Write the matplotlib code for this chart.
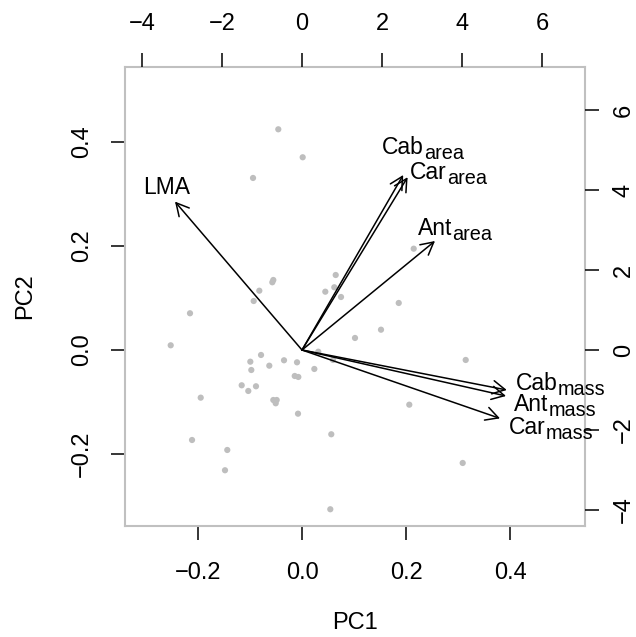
import matplotlib
matplotlib.use("Agg")
import matplotlib.pyplot as plt
from matplotlib.transforms import IdentityTransform

plt.rcParams['font.family'] = ['Liberation Sans', 'DejaVu Sans']

# scores (PC1, PC2) on bottom/left axes
pc1 = [-0.0456, 0.0013, -0.0942, 0.2148, 0.0648, -0.0552, -0.0571, -0.0821, 0.0448, 0.0621,
       0.0750, -0.0929, 0.1860, -0.2154, -0.2525, 0.1519, 0.1019, 0.3148, -0.0788, -0.0994,
       -0.0975, -0.0629, -0.0346, -0.0096, 0.0237, -0.0140, -0.0071, 0.0313, 0.0596, -0.1160,
       -0.0885, -0.1033, -0.1948, -0.0552, -0.0487, -0.0506, 0.2063, -0.0077, 0.0563, -0.2115,
       -0.1437, -0.1481, 0.3090, 0.0544]
pc2 = [0.4244, 0.3706, 0.3308, 0.1948, 0.1442, 0.1346, 0.1302, 0.1140, 0.1121, 0.1206,
       0.1019, 0.0942, 0.0904, 0.0706, 0.0090, 0.0390, 0.0231, -0.0192, -0.0096, -0.0225,
       -0.0385, -0.0302, -0.0198, -0.0237, -0.0365, -0.0500, -0.0519, -0.0033, -0.0192, -0.0679,
       -0.0698, -0.0788, -0.0917, -0.0962, -0.0962, -0.1025, -0.1052, -0.1225, -0.1621, -0.1731,
       -0.1923, -0.2313, -0.2173, -0.3063]

# loadings (top/right axes)
var_main = ['LMA', 'Cab', 'Car', 'Ant', 'Cab', 'Ant', 'Car']
var_sub = ['', 'area', 'area', 'area', 'mass', 'mass', 'mass']
load1 = [-3.175, 2.53, 2.64, 3.325, 5.12, 5.10, 4.95]
load2 = [3.71, 4.375, 4.32, 2.725, -1.00, -1.15, -1.71]
label_x = [-3.38, 3.025, 3.66, 3.825, 6.47, 6.325, 6.22]
label_y = [4.10, 5.05, 4.43, 3.025, -0.85, -1.375, -1.96]

W, H = 636, 637
fig = plt.figure(figsize=(W / 100, H / 100), dpi=100)
rect = [125 / W, 1 - 526 / H, 460 / W, 459 / H]
FS = 17
LFS = 16.5
SFS = LFS * 0.87

ax = fig.add_axes(rect)
ax.scatter(pc1, pc2, s=20, color='#BEBEBE', edgecolors='none', zorder=2)
ax.set_xlim(-0.3404, 0.5442)
ax.set_ylim(-0.3385, 0.5442)
ax.set_xticks([-0.2, 0.0, 0.2, 0.4])
ax.set_yticks([-0.2, 0.0, 0.2, 0.4])
ax.set_xticklabels(['\u22120.2', '0.0', '0.2', '0.4'])
ax.set_yticklabels(['\u22120.2', '0.0', '0.2', '0.4'])
for s in ax.spines.values():
    s.set_color('#C0C0C0')
    s.set_linewidth(1.5)
ax.tick_params(axis='x', direction='out', length=10, width=1.1, color='black',
               labelsize=FS, pad=16)
ax.tick_params(axis='y', direction='out', length=10, width=1.1, color='black',
               labelsize=FS, pad=13)
for lab in ax.get_yticklabels():
    lab.set_rotation(90)
    lab.set_va('center')

ax2 = fig.add_axes(rect, frameon=False)
ax2.set_xlim(-4.425, 7.075)
ax2.set_ylim(-4.40, 7.075)
ax2.patch.set_alpha(0)
ax2.xaxis.tick_top()
ax2.yaxis.tick_right()
ax2.set_xticks([-4, -2, 0, 2, 4, 6])
ax2.set_yticks([-4, -2, 0, 2, 4, 6])
ax2.set_xticklabels(['\u22124', '\u22122', '0', '2', '4', '6'])
ax2.set_yticklabels(['\u22124', '\u22122', '0', '2', '4', '6'])
ax2.tick_params(axis='x', direction='out', length=10, width=1.1, color='black',
                labelsize=FS, pad=13)
ax2.tick_params(axis='y', direction='out', length=10, width=1.1, color='black',
                labelsize=FS, pad=10)
for lab in ax2.get_yticklabels():
    lab.set_rotation(90)
    lab.set_va('center')

for a, b in zip(load1, load2):
    ax2.annotate('', xy=(a, b), xytext=(0, 0),
                 arrowprops=dict(arrowstyle='->,head_length=0.75,head_width=0.4',
                                 color='black', lw=1.1, shrinkA=0, shrinkB=0,
                                 mutation_scale=12))

fig.text(355 / W, 1 - 623 / H, 'PC1', ha='center', va='center', fontsize=FS)
fig.text(25 / W, 1 - 296 / H, 'PC2', ha='center', va='center', fontsize=FS, rotation=90)

# labels with subscripts, laid out in pixel space
fig.canvas.draw()
renderer = fig.canvas.get_renderer()
cap = 0.716 * LFS * 100 / 72
drop = 5.0
for m, sb, lx, ly in zip(var_main, var_sub, label_x, label_y):
    cx, cy = ax2.transData.transform((lx, ly))
    t1 = fig.text(0, 0, m, fontsize=LFS, ha='left', va='baseline',
                  transform=IdentityTransform())
    w1 = t1.get_window_extent(renderer).width
    if sb:
        t2 = fig.text(0, 0, sb, fontsize=SFS, ha='left', va='baseline',
                      transform=IdentityTransform())
        w2 = t2.get_window_extent(renderer).width
        base = cy - (cap - drop) / 2
        x0 = cx - (w1 + w2) / 2
        t1.set_position((x0, base))
        t2.set_position((x0 + w1, base - drop))
    else:
        base = cy - cap / 2
        t1.set_position((cx - w1 / 2, base))

fig.savefig('out.png', dpi=100)
